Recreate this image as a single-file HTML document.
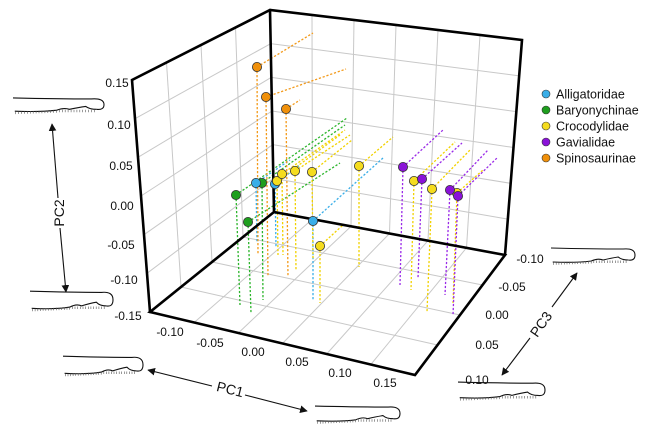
<!DOCTYPE html>
<html><head><meta charset="utf-8"><style>
html,body{margin:0;padding:0;background:#fff;}
svg{display:block;font-family:"Liberation Sans",sans-serif;}
</style></head><body>
<svg id="s" width="659" height="435" viewBox="0 0 659 435" xmlns="http://www.w3.org/2000/svg">
<g id="grid" stroke="#c8c8c8" stroke-width="1" fill="none"></g>
<g id="lines" fill="none" stroke-width="1.3" stroke-dasharray="2.2,1.8"></g>
<g id="box" stroke="#000" stroke-width="2.6" fill="none" stroke-linecap="round">
<polyline points="150,312 132,80 270,10 522,40 505,255"/>
<polyline points="270,10 274,212 505,255 415,375 150,312 274,212"/>
</g>
<g id="pts" stroke="#333" stroke-width="0.8"></g>
<g font-size="12" fill="#111" text-anchor="middle">
<text x="117" y="87">0.15</text><text x="119" y="129">0.10</text><text x="121" y="170">0.05</text><text x="122" y="210">0.00</text><text x="121" y="249">-0.05</text><text x="124" y="284">-0.10</text><text x="128" y="320">-0.15</text>
<text x="170" y="336">-0.10</text><text x="210" y="347">-0.05</text><text x="253" y="356">0.00</text><text x="297" y="366">0.05</text><text x="340" y="377">0.10</text><text x="385" y="387">0.15</text>
<text x="530" y="263">-0.10</text><text x="512" y="291">-0.05</text><text x="497" y="319">0.00</text><text x="487" y="349">0.05</text><text x="477" y="384">0.10</text>
</g>
<g font-size="12.5" fill="#111">
<circle cx="546" cy="94" r="4" fill="#3aaee8" stroke="#333" stroke-width="0.6"/><text x="556" y="98.5">Alligatoridae</text>
<circle cx="546" cy="110" r="4" fill="#1e9e1e" stroke="#333" stroke-width="0.6"/><text x="556" y="114.5">Baryonychinae</text>
<circle cx="546" cy="126" r="4" fill="#f5dc1e" stroke="#333" stroke-width="0.6"/><text x="556" y="130.5">Crocodylidae</text>
<circle cx="546" cy="142" r="4" fill="#8a12d8" stroke="#333" stroke-width="0.6"/><text x="556" y="146.5">Gavialidae</text>
<circle cx="546" cy="158" r="4" fill="#f0900a" stroke="#333" stroke-width="0.6"/><text x="556" y="162.5">Spinosaurinae</text>
</g>
<defs><marker id="ar" viewBox="0 0 10 10" refX="9" refY="5" markerWidth="7" markerHeight="7" orient="auto-start-reverse"><path d="M0,0 L10,5 L0,10 z" fill="#111"/></marker></defs>
<g stroke="#111" stroke-width="1.1" fill="none">
<line x1="52" y1="124" x2="58" y2="198" marker-start="url(#ar)"/><line x1="60" y1="228" x2="66" y2="292" marker-end="url(#ar)"/>
<line x1="148" y1="370" x2="212" y2="386" marker-start="url(#ar)"/><line x1="245" y1="395" x2="307" y2="411" marker-end="url(#ar)"/>
<line x1="577" y1="273" x2="552" y2="307" marker-start="url(#ar)"/><line x1="530" y1="338" x2="502" y2="375" marker-end="url(#ar)"/>
</g>
<g font-size="14" fill="#111" text-anchor="middle">
<text transform="translate(64,213) rotate(-90)">PC2</text>
<text transform="translate(229,394) rotate(14)">PC1</text>
<text transform="translate(545,327) rotate(-55)">PC3</text>
</g>
<g id="snouts" stroke="#111" fill="none" stroke-width="1.1"></g>
</svg>
<script>
var NS="http://www.w3.org/2000/svg";
function el(p,t,a){var e=document.createElementNS(NS,t);for(var k in a)e.setAttribute(k,a[k]);document.getElementById(p).appendChild(e);return e;}
function bl(c,u,v){
var x=(1-u)*(1-v)*c[0][0]+u*(1-v)*c[1][0]+u*v*c[2][0]+(1-u)*v*c[3][0];
var y=(1-u)*(1-v)*c[0][1]+u*(1-v)*c[1][1]+u*v*c[2][1]+(1-u)*v*c[3][1];return [x,y];}
function grid(c,nu,nv){for(var i=1;i<nu;i++){var a=bl(c,i/nu,0),b=bl(c,i/nu,1);el("grid","line",{x1:a[0],y1:a[1],x2:b[0],y2:b[1]});}
for(var j=1;j<nv;j++){var a=bl(c,0,j/nv),b=bl(c,1,j/nv);el("grid","line",{x1:a[0],y1:a[1],x2:b[0],y2:b[1]});}}
grid([[132,80],[270,10],[274,212],[150,312]],4,6);
grid([[270,10],[522,40],[505,255],[274,212]],6,6);
grid([[150,312],[415,375],[505,255],[274,212]],6,4);
var C={b:["#3aaee8","#3aaee8"],g:["#1e9e1e","#2cb52c"],y:["#f5dc1e","#f2d200"],p:["#8a12d8","#9a2ae8"],o:["#f0900a","#f39a1a"]};
var P=[["g",236,195,240,305,347,118],["g",248,222,251,313,340,163],["g",262,183,263,300,345,125],
["b",256,183,257,243,290,160],["b",275,184,276,247,300,165],["b",313,221,313,300,383,158],
["y",277,181,278,255,340,135],["y",282,174,283,255,345,130],["y",295,171,296,270,350,135],["y",312,172,313,260,352,140],["y",320,246,320,303,343,225],["y",359,166,359,267,393,137],["y",414,181,411,290,455,142],["y",432,189,427,312,470,150],["y",457,193,453,303,483,170],
["p",403,167,400,285,443,130],["p",422,179,418,278,462,143],["p",450,190,445,295,488,150],["p",458,196,453,315,497,158],
["o",257,67,258,255,313,33],["o",266,97,268,277,346,69],["o",286,109,288,277,300,100]];
P.forEach(function(q){var c=C[q[0]][1];el("lines","line",{x1:q[1],y1:q[2],x2:q[3],y2:q[4],stroke:c});el("lines","line",{x1:q[1],y1:q[2],x2:q[5],y2:q[6],stroke:c});});
P.forEach(function(q){el("pts","circle",{cx:q[1],cy:q[2],r:4.6,fill:C[q[0]][0]});});
function snout(x,y,w,h){var sx=w/100,sy=h/18;function X(v){return (x+v*sx).toFixed(1)}function Y(v){return (y+v*sy).toFixed(1)}
el("snouts","path",{d:"M"+X(0)+","+Y(1)+" Q"+X(50)+","+Y(2)+" "+X(86)+","+Y(2)+" Q"+X(100)+","+Y(1)+" "+X(100)+","+Y(8)+" Q"+X(100)+","+Y(14)+" "+X(92)+","+Y(13)});
el("snouts","path",{d:"M"+X(2)+","+Y(15)+" Q"+X(30)+","+Y(16)+" "+X(48)+","+Y(14)+" Q"+X(56)+","+Y(11)+" "+X(62)+","+Y(13)+" Q"+X(72)+","+Y(11)+" "+X(80)+","+Y(10)+" Q"+X(84)+","+Y(13)+" "+X(92)+","+Y(13)});
var d="";for(var t=3;t<92;t+=3.2){var yy=t<48?15.5-(t/48)*1.5:13.5;d+="M"+X(t)+","+Y(yy)+"v2.5";}
el("snouts","path",{d:d,"stroke-width":0.6,stroke:"#555"});}
snout(13,97,91,17);snout(30,290,83,22);snout(63,355,80,22);snout(315,405,85,19);snout(551,247,84,18);snout(458,381,87,20);
</script>
</body></html>
